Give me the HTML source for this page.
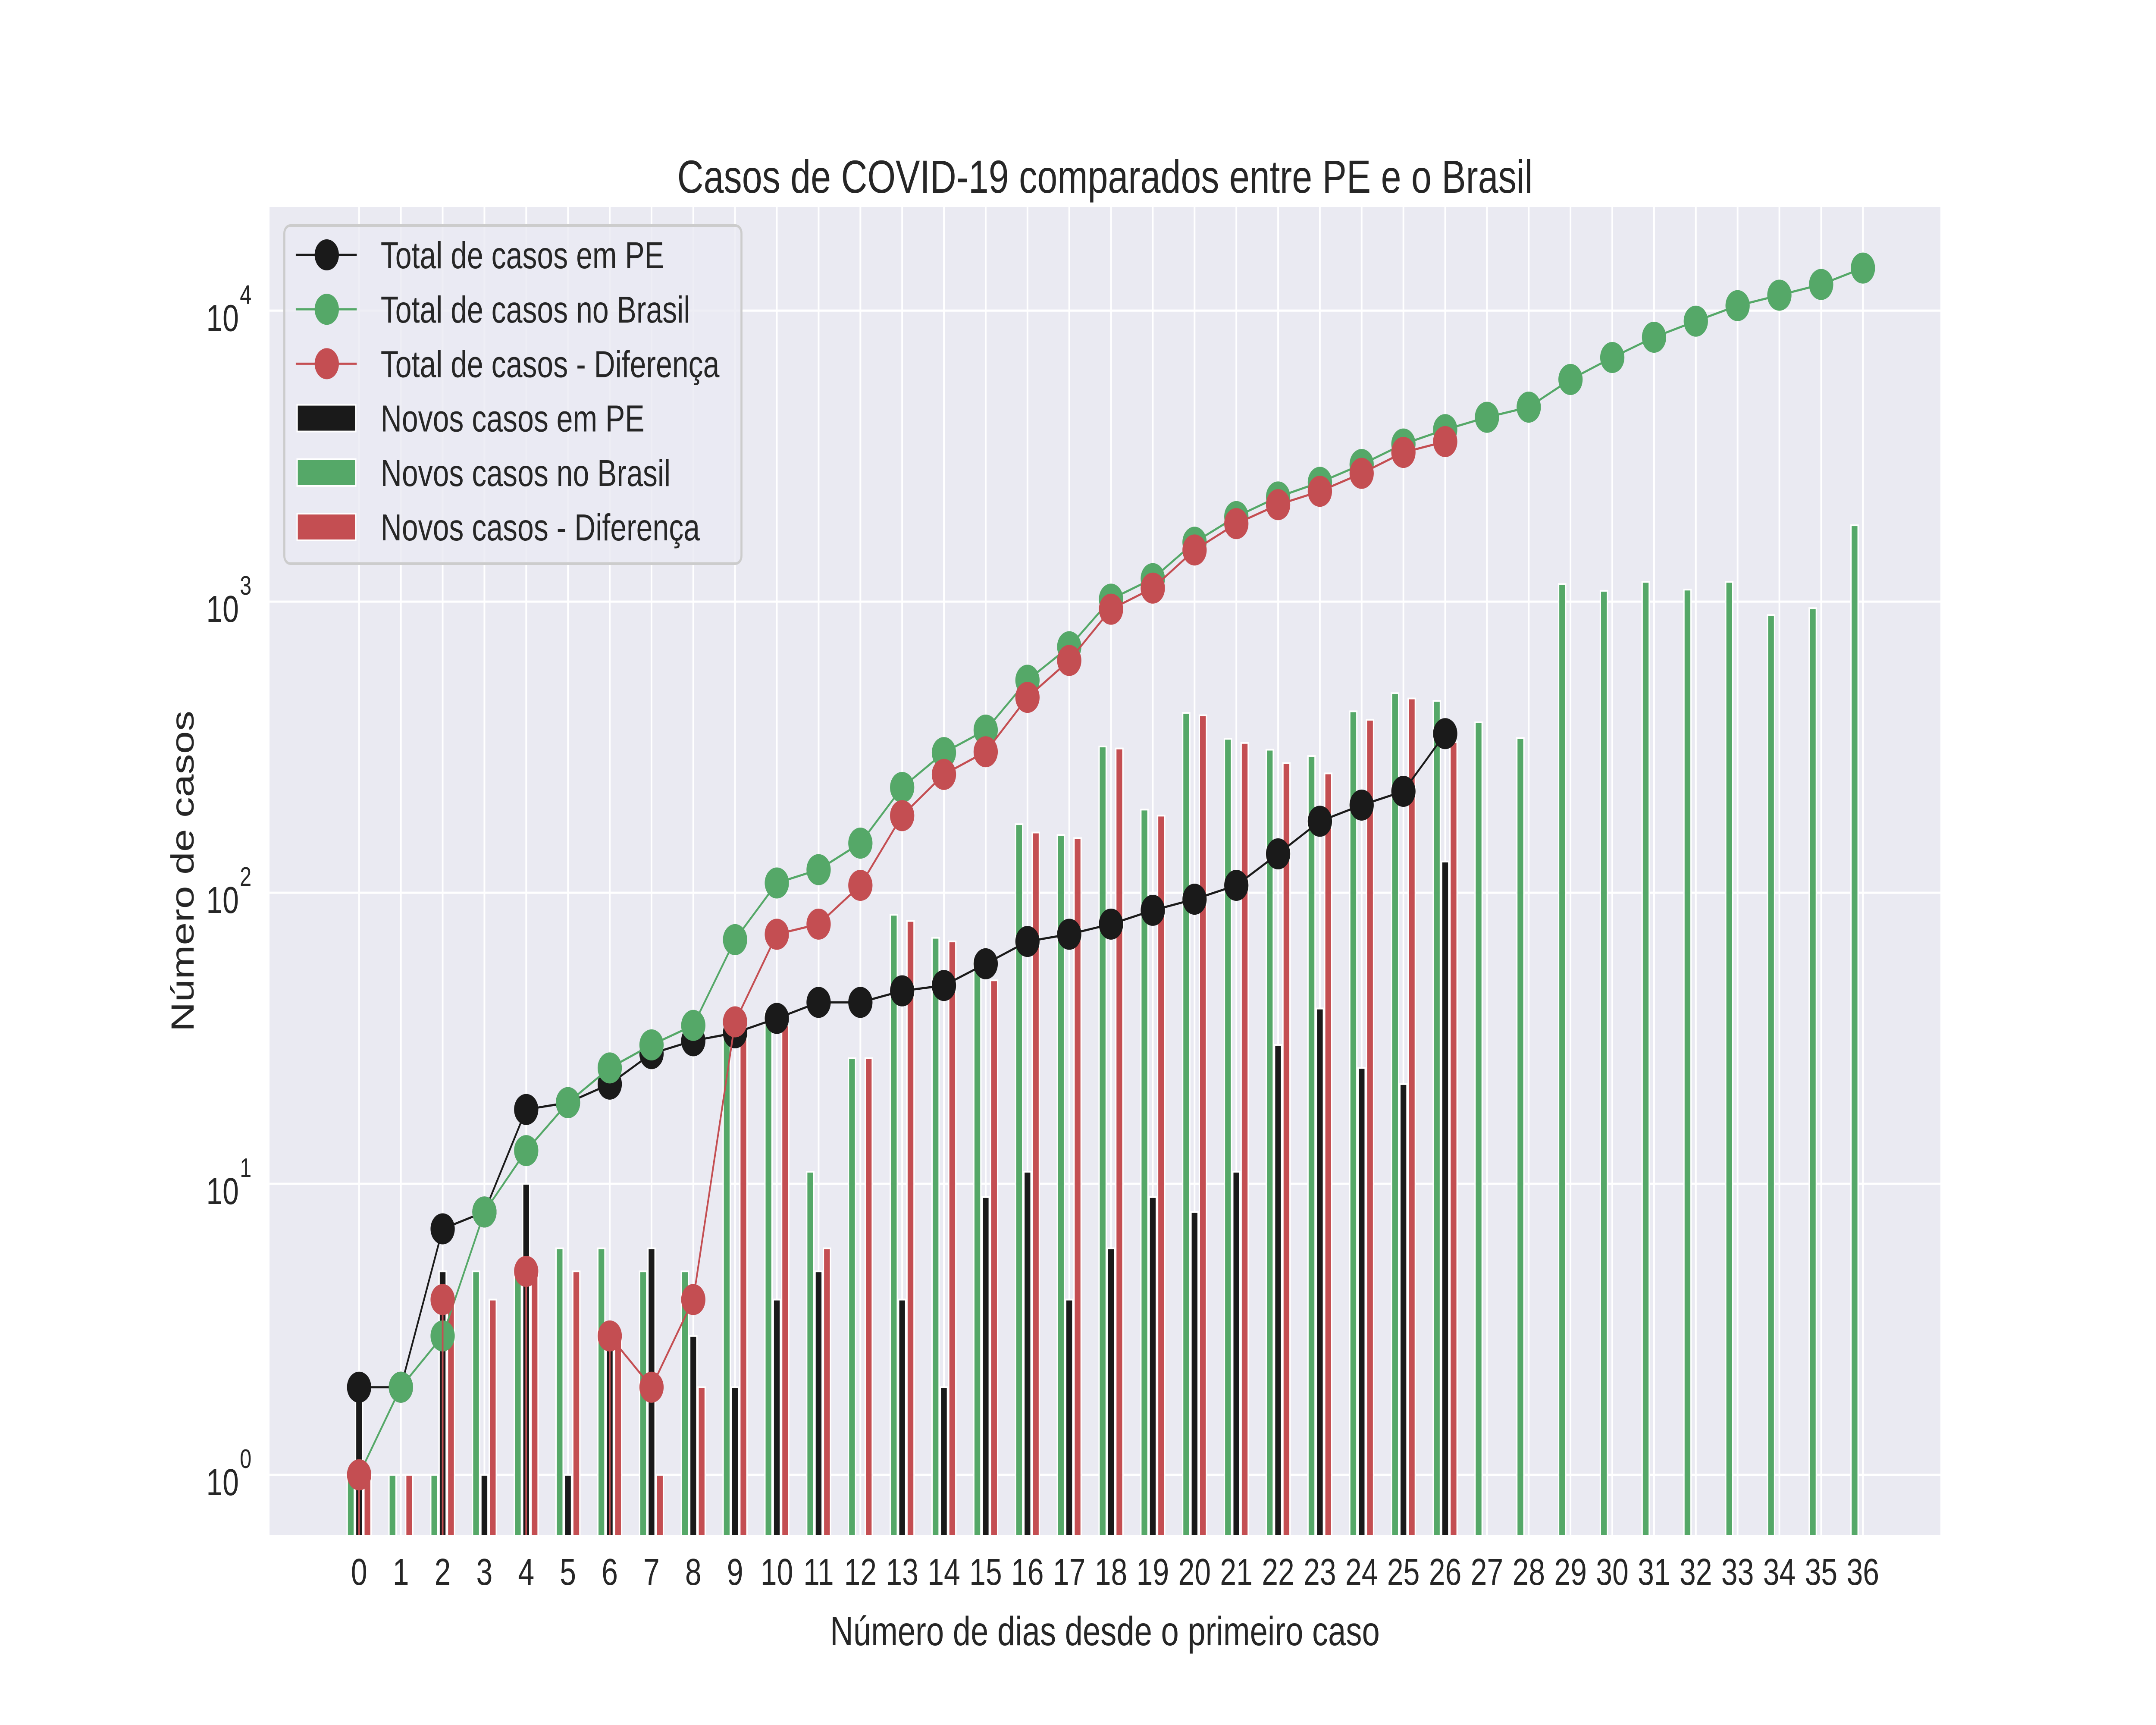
<!DOCTYPE html>
<html><head><meta charset="utf-8"><style>
html,body{margin:0;padding:0;background:#fff;width:100%;height:100%;overflow:hidden;}
svg{display:block;width:100vw;height:100vh;}
text{font-family:"Liberation Sans",sans-serif;fill:#262626;}
</style></head><body>
<svg id="chart" viewBox="0 0 6400 4000" preserveAspectRatio="none" xmlns="http://www.w3.org/2000/svg">
<defs><clipPath id="plotclip"><rect x="800" y="480" width="4960" height="3080"/></clipPath></defs>
<rect x="0" y="0" width="6400" height="4000" fill="#fff"/>
<rect x="800" y="480" width="4960" height="3080" fill="#eaeaf2"/>
<g id="grid"></g>
<g id="bars" clip-path="url(#plotclip)"></g>
<g id="lines" clip-path="url(#plotclip)"></g>
<g id="ticks"></g>
<text x="3280" y="447" text-anchor="middle" font-size="108">Casos de COVID-19 comparados entre PE e o Brasil</text>
<text x="3280" y="3815" text-anchor="middle" font-size="95">Número de dias desde o primeiro caso</text>
<text x="0" y="0" transform="translate(575,2020) rotate(-90)" text-anchor="middle" font-size="95">Número de casos</text>
<g id="legend">
<rect x="844" y="523" width="1357" height="784" rx="18" fill="#eaeaf2" fill-opacity="0.8" stroke="#cccccc" stroke-width="6"/>
</g>
</svg>
<script>
const days = [0,1,2,3,4,5,6,7,8,9,10,11,12,13,14,15,16,17,18,19,20,21,22,23,24,25,26,27,28,29,30,31,32,33,34,35,36];
const totalPE = [2,2,7,8,18,19,22,28,31,33,37,42,42,46,48,57,68,72,78,87,95,106,136,176,200,223,352];
const totalBR = [1,2,3,8,13,19,25,30,35,69,108,120,148,230,303,362,537,700,1020,1200,1600,1960,2290,2570,2960,3480,3900,4300,4660,5800,6900,8100,9200,10400,11300,12300,14000];
const totalDiff = [1,0,4,0,5,0,3,2,4,36,72,78,106,184,255,305,469,628,942,1113,1505,1854,2154,2394,2760,3257,3548];
const newPE = [2,0,5,1,10,1,3,6,3,2,4,5,0,4,2,9,11,4,6,9,8,11,30,40,25,22,128];
const newBR = [1,1,1,5,5,6,6,5,5,34,39,11,27,84,70,59,172,158,318,193,415,338,310,295,420,485,456,385,340,1150,1090,1170,1100,1170,900,950,1830];
const newDiff = [1,1,4,4,5,5,3,1,2,32,35,6,27,80,68,50,161,154,313,184,407,327,279,257,393,465,330];
const yTicks = [0,1,2,3,4];

const NS='http://www.w3.org/2000/svg';
const L=800,R=5760,T=480,B=3560;
const xmin=-2.145,xmax=37.855;
const ymin=Math.log10(0.62),ymax=4.356;
function X(v){return L+(v-xmin)/(xmax-xmin)*(R-L);}
function Y(v){return B-(Math.log10(v)-ymin)/(ymax-ymin)*(B-T);}
function mk(tag,attrs,parent){const e=document.createElementNS(NS,tag);for(const k in attrs)e.setAttribute(k,attrs[k]);parent.appendChild(e);return e;}
const grid=document.getElementById('grid'),bars=document.getElementById('bars'),lines=document.getElementById('lines'),ticks=document.getElementById('ticks'),legend=document.getElementById('legend');

days.forEach(d=>{
  const g=mk('line',{x1:X(d),x2:X(d),y1:T,y2:B,stroke:'#fff','stroke-width':5},grid);
  
  
  const t=mk('text',{x:X(d),y:3675,'text-anchor':'middle','font-size':87},ticks);
  t.textContent=String(d);
  
  
});
yTicks.forEach(p=>{
  const y=Y(Math.pow(10,p));
  const g=mk('line',{x1:L,x2:R,y1:y,y2:y,stroke:'#fff','stroke-width':5},grid);
  
  
  const t=mk('text',{x:709,y:y+47,'text-anchor':'end','font-size':87},ticks);
  t.textContent='10';
  
  
  const s=mk('text',{x:712,y:y-16,'text-anchor':'start','font-size':62},ticks);
  s.textContent=String(p);
  
  
});

const bw=0.17;
function drawBars(vals,off,color,name){
  vals.forEach((v,i)=>{
    if(!v||v<=0)return;
    const x0=X(days[i]+off-bw/2),x1=X(days[i]+off+bw/2),y=Y(v);
    const r=mk('rect',{x:x0,y:y,width:x1-x0,height:B+10-y,fill:color,stroke:'#fff','stroke-width':4},bars);
    
    
  });
}
drawBars(newBR,-0.2,'#55a868','bar-novos-brasil');
drawBars(newPE,0,'#1a1a1a','bar-novos-pe');
drawBars(newDiff,0.2,'#c44e52','bar-novos-diferenca');

function drawLine(vals,color,name){
  const g=mk('g',{},lines);
  
  
  // points with zero map to -inf in log scale: segment becomes vertical drop at the finite point's x
  let d='';
  for(let i=0;i<vals.length-1;i++){
    const a=vals[i],b=vals[i+1];
    if(a>0&&b>0){d+='M'+X(days[i])+','+Y(a)+'L'+X(days[i+1])+','+Y(b);}
    else if(a>0){d+='M'+X(days[i])+','+Y(a)+'L'+X(days[i])+','+(B+50);}
    else if(b>0){d+='M'+X(days[i+1])+','+(B+50)+'L'+X(days[i+1])+','+Y(b);}
  }
  const p=mk('path',{d:d,fill:'none',stroke:color,'stroke-width':5,'stroke-linejoin':'round'},g);
  
  
  vals.forEach((v,i)=>{
    if(!(v>0))return;
    const c=mk('circle',{cx:X(days[i]),cy:Y(v),r:36,fill:color},g);
    
    
  });
}
drawLine(totalPE,'#1a1a1a','line-total-pe');
drawLine(totalBR,'#55a868','line-total-brasil');
drawLine(totalDiff,'#c44e52','line-total-diferenca');

const legItems=[
 ['line','#1a1a1a','Total de casos em PE'],
 ['line','#55a868','Total de casos no Brasil'],
 ['line','#c44e52','Total de casos - Diferença'],
 ['rect','#1a1a1a','Novos casos em PE'],
 ['rect','#55a868','Novos casos no Brasil'],
 ['rect','#c44e52','Novos casos - Diferença']];
legItems.forEach((it,i)=>{
  const y=591+i*126.2;
  if(it[0]==='line'){
    const l=mk('line',{x1:878,x2:1059,y1:y,y2:y,stroke:it[1],'stroke-width':5},legend);
    
    
    const c=mk('circle',{cx:970,cy:y,r:36,fill:it[1]},legend);
    
    
  } else {
    const r=mk('rect',{x:882,y:y-31,width:174,height:62,fill:it[1],stroke:'#fff','stroke-width':4},legend);
    
    
  }
  const t=mk('text',{x:1130,y:y+31,'font-size':87},legend);
  t.textContent=it[2];
  
  
});
</script>
</body></html>
